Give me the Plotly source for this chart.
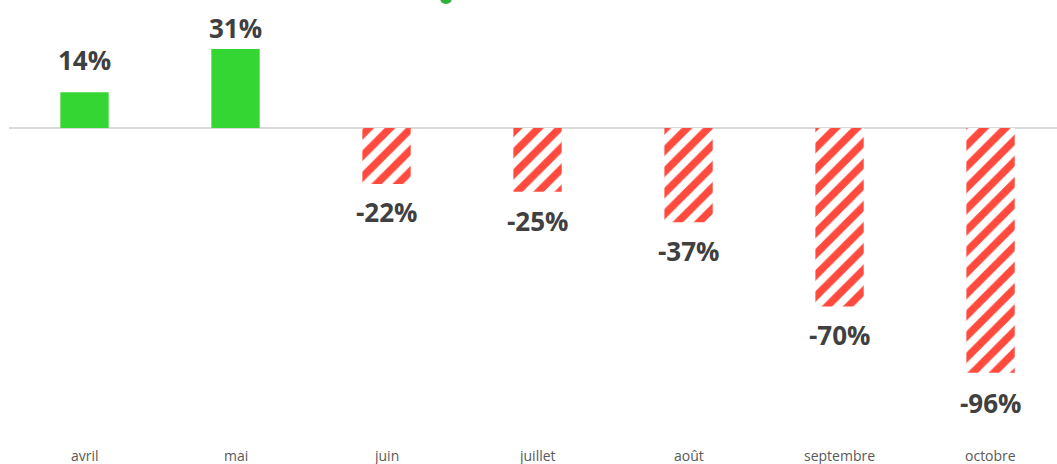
import plotly.graph_objects as go

months = ["avril", "mai", "juin", "juillet", "août", "septembre", "octobre"]
values = [14, 31, -22, -25, -37, -70, -96]
labels = ["14%", "31%", "-22%", "-25%", "-37%", "-70%", "-96%"]

# label offsets (pixels) from the bar end, style only
label_shift = [12, 1, -8, -9, -9, -9, -10]

GREEN = "#33D633"
RED = "#FF4A3D"
TXT = "#404040"

pos_x = [m for m, v in zip(months, values) if v >= 0]
pos_y = [v for v in values if v >= 0]
neg_x = [m for m, v in zip(months, values) if v < 0]
neg_y = [v for v in values if v < 0]

fig = go.Figure()
fig.add_trace(go.Bar(x=pos_x, y=pos_y, marker=dict(color=GREEN, line=dict(width=0)),
                     width=0.32, hoverinfo="skip"))
fig.add_trace(go.Bar(x=neg_x, y=neg_y,
                     marker=dict(color="white", line=dict(width=0),
                                 pattern=dict(shape="/", fgcolor=RED, bgcolor="white",
                                              size=15, solidity=0.5, fillmode="replace")),
                     width=0.32, hoverinfo="skip"))

annotations = []
for m, v, t, s in zip(months, values, labels, label_shift):
    annotations.append(dict(x=m, y=v, xref="x", yref="y", text=t, showarrow=False,
                            yanchor="bottom" if v >= 0 else "top",
                            yshift=s,
                            font=dict(family="Open Sans", size=26, color=TXT, weight="bold")))
    annotations.append(dict(x=m, y=0.018, xref="x", yref="paper", text=m, showarrow=False,
                            yanchor="middle",
                            font=dict(family="Open Sans", size=14, color="#595959")))

fig.update_layout(
    width=1057, height=464,
    margin=dict(l=9, r=0, t=0, b=0),
    paper_bgcolor="white", plot_bgcolor="white",
    showlegend=False, barmode="relative",
    xaxis=dict(type="category", categoryorder="array", categoryarray=months,
               range=[-0.5, 6.44], showticklabels=False, showgrid=False,
               zeroline=False, showline=False, ticks=""),
    yaxis=dict(range=[-131.8, 50.2], showticklabels=False, showgrid=False,
               zeroline=True, zerolinecolor="#D9D9D9", zerolinewidth=1.5,
               showline=False, ticks=""),
    annotations=annotations,
    shapes=[dict(type="circle", xref="paper", yref="paper",
                 x0=(440 - 9) / 1048, x1=(452 - 9) / 1048,
                 y0=(464 - 4) / 464, y1=(464 + 8) / 464,
                 fillcolor="#2DB33A", line=dict(width=0), layer="above")],
)

fig.write_html("out.html", config={"displayModeBar": False},
               post_script="document.body.style.margin='0';document.body.style.overflow='hidden';")
